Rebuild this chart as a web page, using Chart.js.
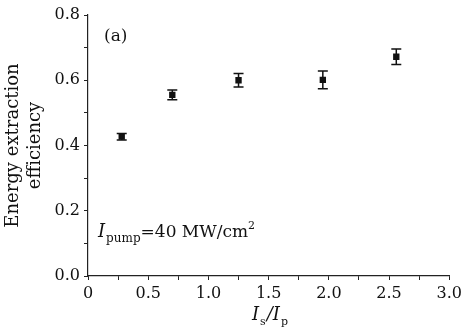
<!DOCTYPE html>
<html>
<head>
<meta charset="utf-8">
<script src="https://cdn.jsdelivr.net/npm/chart.js@4"></script>
<style>
  html, body { margin: 0; padding: 0; background: #fff; }
  #wrap { width: 466px; height: 336px; }
</style>
</head>
<body>
<div id="wrap"><canvas id="chart" width="466" height="336"></canvas></div>
<script>
const ratio = [0.28, 0.70, 1.25, 1.95, 2.56];
const efficiency = [0.427, 0.555, 0.600, 0.601, 0.672];
const errorBar = [0.010, 0.015, 0.021, 0.027, 0.024];
const yTitle = ['Energy extraction', 'efficiency'];
const panelLabel = '(a)';

const serif = '"DejaVu Serif", "Liberation Serif", serif';

// draws error bars and the in-plot texts
const extras = {
    id: 'extras',
    afterDatasetsDraw(chart) {
        const c = chart.ctx;
        const xs = chart.scales.x, ys = chart.scales.y;
        c.save();
        c.strokeStyle = '#111';
        c.lineWidth = 1.5;
        ratio.forEach((r, i) => {
            const px = xs.getPixelForValue(r);
            const top = ys.getPixelForValue(efficiency[i] + errorBar[i]);
            const bot = ys.getPixelForValue(efficiency[i] - errorBar[i]);
            c.beginPath();
            c.moveTo(px, top); c.lineTo(px, bot);
            c.moveTo(px - 5, top); c.lineTo(px + 5, top);
            c.moveTo(px - 5, bot); c.lineTo(px + 5, bot);
            c.stroke();
        });

        c.fillStyle = '#111';
        c.textBaseline = 'alphabetic';
        c.textAlign = 'left';
        // panel label
        c.font = '17px ' + serif;
        c.fillText(panelLabel, 104, 41);

        // I_pump = 40 MW/cm2
        let x = 98, y = 237;
        c.font = 'italic 18px ' + serif;
        c.fillText('I', x, y); x += c.measureText('I').width + 1;
        c.font = '12px ' + serif;
        c.fillText('pump', x, y + 5); x += c.measureText('pump').width;
        c.font = '17px ' + serif;
        c.fillText('=40 MW/cm', x, y); x += c.measureText('=40 MW/cm').width;
        c.font = '11px ' + serif;
        c.fillText('2', x, y - 8);

        // x axis title I_s / I_p
        x = 252; y = 320;
        c.font = 'italic 18px ' + serif;
        c.fillText('I', x, y); x += c.measureText('I').width + 1;
        c.font = '11px ' + serif;
        c.fillText('s', x, y + 5); x += c.measureText('s').width + 1;
        c.font = 'italic 18px ' + serif;
        c.fillText('/', x, y); x += c.measureText('/').width;
        c.fillText('I', x, y); x += c.measureText('I').width + 1;
        c.font = '11px ' + serif;
        c.fillText('p', x, y + 5);
        c.restore();
    }
};

new Chart(document.getElementById('chart'), {
    type: 'scatter',
    data: {
        datasets: [{
            data: ratio.map((r, i) => ({ x: r, y: efficiency[i] })),
            pointStyle: 'rect',
            pointRadius: 4.5,
            backgroundColor: '#111',
            borderColor: '#111',
            borderWidth: 0
        }]
    },
    options: {
        responsive: false,
        animation: false,
        layout: { padding: { top: 15, right: 16, left: 0, bottom: 0 } },
        plugins: {
            legend: { display: false },
            tooltip: { enabled: false }
        },
        scales: {
            x: {
                type: 'linear',
                min: 0, max: 3,
                afterFit(s) { s.height = 60; },
                border: { display: true, color: '#222', width: 1.2 },
                grid: { drawOnChartArea: false, tickLength: 4, color: '#222' },
                ticks: {
                    stepSize: 0.25,
                    autoSkip: false,
                    maxRotation: 0,
                    padding: 4,
                    color: '#111',
                    font: { family: serif, size: 16 },
                    callback: v => {
                        const k = Math.round(v * 4);
                        if (k % 2) return '';
                        return k === 0 ? '0' : (v).toFixed(1);
                    }
                }
            },
            y: {
                min: 0, max: 0.8,
                afterFit(s) { s.width = 88; },
                border: { display: true, color: '#222', width: 1.2 },
                grid: { drawOnChartArea: false, tickLength: 4, color: '#222' },
                title: {
                    display: true,
                    text: yTitle,
                    color: '#111',
                    font: { family: serif, size: 18, lineHeight: 1.2 },
                    padding: { top: 3, bottom: 0 }
                },
                ticks: {
                    stepSize: 0.1,
                    autoSkip: false,
                    padding: 4,
                    color: '#111',
                    font: { family: serif, size: 16 },
                    callback: v => {
                        const k = Math.round(v * 10);
                        return k % 2 ? '' : (v).toFixed(1);
                    }
                }
            }
        }
    },
    plugins: [extras]
});
</script>
</body>
</html>
